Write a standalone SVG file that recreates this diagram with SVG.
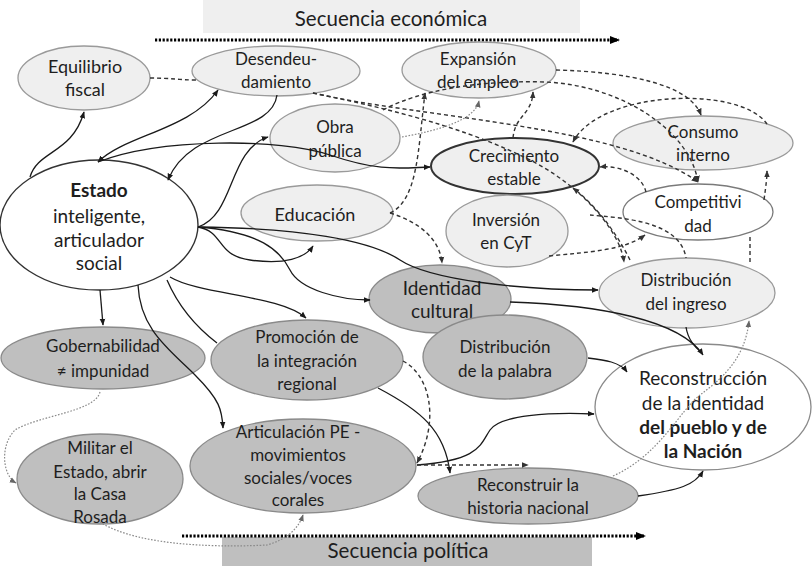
<svg xmlns="http://www.w3.org/2000/svg" width="812" height="566" viewBox="0 0 812 566">
<style>
text{font-family:Lato,"Liberation Sans",sans-serif;font-size:17px;fill:#1e1e1e;text-anchor:middle}
.big{font-size:18px}
.xl{font-size:19px}
.b{font-weight:bold}
.light{fill:#efefef;stroke:#9a9a9a;stroke-width:1.3}
.gray{fill:#bfbfbf;stroke:#8a8a8a;stroke-width:1.3}
.white{fill:#fff;stroke:#7a7a7a;stroke-width:1.3}
.s{fill:none;stroke:#1a1a1a;stroke-width:1.3;marker-end:url(#as)}
.sn{fill:none;stroke:#1a1a1a;stroke-width:1.3}
.d{fill:none;stroke:#333;stroke-width:1.4;stroke-dasharray:4 3;marker-end:url(#ad)}
.dn{fill:none;stroke:#333;stroke-width:1.4;stroke-dasharray:4 3}
.g{fill:none;stroke:#8a8a8a;stroke-width:1.2;stroke-dasharray:1.6 1.6;marker-end:url(#ag)}
.seq{fill:none;stroke:#000;stroke-width:2.8;stroke-dasharray:2.2 1.6;marker-end:url(#abig)}
.band text{font-size:20.5px}
</style>
<defs>
<marker id="as" viewBox="0 0 10 10" refX="9" refY="5" markerWidth="7" markerHeight="7" markerUnits="userSpaceOnUse" orient="auto-start-reverse"><path d="M0,1 L10,5 L0,9 z" fill="#1a1a1a"/></marker>
<marker id="ad" viewBox="0 0 10 10" refX="9" refY="5" markerWidth="7" markerHeight="7" markerUnits="userSpaceOnUse" orient="auto"><path d="M0,1 L10,5 L0,9 z" fill="#333"/></marker>
<marker id="ag" viewBox="0 0 10 10" refX="9" refY="5" markerWidth="7" markerHeight="7" markerUnits="userSpaceOnUse" orient="auto"><path d="M0,1 L10,5 L0,9 z" fill="#666"/></marker>
<marker id="abig" viewBox="0 0 10 10" refX="9" refY="5" markerWidth="10" markerHeight="10" markerUnits="userSpaceOnUse" orient="auto"><path d="M0,1 L10,5 L0,9 z" fill="#000"/></marker>
</defs>
<rect width="812" height="566" fill="#fff"/>
<g id="band-economica" class="band">
<rect x="203" y="0" width="377" height="33" fill="#efefef"/>
<text x="391" y="26">Secuencia económica</text>
<path class="seq" d="M155,40 L619,40"/>
</g>
<g id="band-politica" class="band">
<rect x="222" y="537" width="370" height="29" fill="#bfbfbf"/>
<text x="408" y="558">Secuencia política</text>
<path class="seq" d="M182,536 L645,536"/>
</g>
<g id="nodes">
<g id="equilibrio"><ellipse class="light" cx="84" cy="78" rx="66" ry="32"/><text class="big" x="85" y="73">Equilibrio</text><text class="big" x="85" y="96">fiscal</text></g>
<g id="desendeudamiento"><ellipse class="light" cx="276" cy="71" rx="84" ry="25"/><text x="276" y="65">Desendeu-</text><text x="276" y="88">damiento</text></g>
<g id="expansion"><ellipse class="light" cx="479" cy="70" rx="77" ry="28"/><text x="478" y="65">Expansión</text><text x="478" y="88">del empleo</text></g>
<g id="obra"><ellipse class="light" cx="335" cy="138" rx="65" ry="34"/><text x="335" y="133">Obra</text><text x="335" y="157">pública</text></g>
<g id="consumo"><ellipse class="light" cx="703" cy="143" rx="90" ry="27"/><text x="703" y="138">Consumo</text><text x="703" y="161">interno</text></g>
<g id="crecimiento"><ellipse cx="515" cy="166" rx="84" ry="28" fill="#efefef" stroke="#333" stroke-width="2"/><text x="514" y="162">Crecimiento</text><text x="514" y="185">estable</text></g>
<g id="estado"><ellipse cx="99" cy="225" rx="99" ry="65" fill="#fff" stroke="#333" stroke-width="1.4"/><text class="b xl" x="99" y="197">Estado</text><text class="xl" x="99" y="223">inteligente,</text><text class="xl" x="99" y="247">articulador</text><text class="xl" x="99" y="270">social</text></g>
<g id="educacion"><ellipse class="light" cx="317" cy="213" rx="76" ry="28"/><text class="big" x="315" y="221">Educación</text></g>
<g id="inversion"><ellipse class="light" cx="507" cy="231" rx="61" ry="36"/><text x="506" y="226">Inversión</text><text x="506" y="249">en CyT</text></g>
<g id="competitividad"><ellipse class="white" cx="698" cy="212" rx="75" ry="28"/><text x="698" y="208">Competitivi</text><text x="698" y="232">dad</text></g>
<g id="distribucion-ingreso"><ellipse class="light" cx="687" cy="293" rx="88" ry="35"/><text x="686" y="286">Distribución</text><text x="686" y="310">del ingreso</text></g>
<g id="identidad"><ellipse class="gray" cx="440" cy="299" rx="71" ry="34"/><text class="xl" x="442" y="295">Identidad</text><text class="xl" x="442" y="318">cultural</text></g>
<g id="palabra"><ellipse class="gray" cx="505" cy="357" rx="82" ry="42"/><text x="505" y="353">Distribución</text><text x="505" y="377">de la palabra</text></g>
<g id="gobernabilidad"><ellipse class="gray" cx="103" cy="358" rx="102" ry="31"/><text x="103" y="352">Gobernabilidad</text><text x="103" y="377">≠ impunidad</text></g>
<g id="promocion"><ellipse class="gray" cx="307" cy="360" rx="96" ry="40"/><text x="307" y="343">Promoción de</text><text x="307" y="367">la integración</text><text x="307" y="390">regional</text></g>
<g id="reconstruccion"><ellipse cx="703" cy="407" rx="108" ry="63" fill="#fff" stroke="#8a8a8a" stroke-width="1.3"/><text class="xl" x="703" y="385">Reconstrucción</text><text class="xl" x="703" y="410">de la identidad</text><text class="xl b" x="703" y="434">del pueblo y de</text><text class="xl b" x="703" y="458">la Nación</text></g>
<g id="militar"><ellipse class="gray" cx="100" cy="479" rx="83" ry="45"/><text x="100" y="454">Militar el</text><text x="100" y="478">Estado, abrir</text><text x="100" y="500">la Casa</text><text x="100" y="523">Rosada</text></g>
<g id="articulacion"><ellipse class="gray" cx="303" cy="466" rx="113" ry="47"/><text x="298" y="438">Articulación PE -</text><text x="298" y="461">movimientos</text><text x="298" y="484">sociales/voces</text><text x="298" y="506">corales</text></g>
<g id="reconstruir"><ellipse class="gray" cx="528" cy="496" rx="110" ry="28"/><text x="528" y="491">Reconstruir la</text><text x="528" y="514">historia nacional</text></g>
</g>
<g id="connectors">
<path class="s" d="M30,177 C38,150 72,154 84,112"/>
<path class="s" style="marker-start:url(#as)" d="M98,162 C125,135 190,130 218,90"/>
<path class="s" d="M277,95 C272,135 190,125 168,180"/>
<path class="s" d="M98,162 C160,138 280,138 330,155 S400,168 430,167"/>
<path class="s" d="M198,227 C235,215 228,150 268,137"/>
<path class="s" d="M198,227 C225,232 215,255 250,260 S305,258 313,246"/>
<path class="s" d="M198,227 C260,232 280,250 290,270 S340,300 370,300"/>
<path class="s" d="M198,227 C300,228 370,240 400,260 S520,290 598,290"/>
<path class="s" d="M510,302 C600,305 680,320 703,355"/>
<path class="sn" d="M686,327 C688,340 695,347 702,353"/>
<path class="s" d="M100,290 L103,325"/>
<path class="s" d="M170,277 C200,295 280,295 306,318"/>
<path class="sn" d="M167,280 C180,310 200,330 217,343"/>
<path class="s" d="M138,285 C140,330 170,350 195,375 S222,410 223,428"/>
<path class="s" d="M378,388 C420,410 445,430 450,473"/>
<path class="s" d="M417,465 C480,460 480,445 490,430 S550,412 594,414"/>
<path class="s" d="M638,496 C680,490 695,485 703,471"/>
<path class="s" d="M588,358 C605,360 620,362 627,372"/>
<path class="dn" d="M150,78 C170,78 180,80 196,80"/>
<path class="d" d="M313,93 C420,118 620,125 698,182"/>
<path class="d" d="M313,93 C420,115 480,135 530,160 S620,230 624,262"/>
<path class="d" d="M383,110 C420,90 480,80 545,82 C620,85 690,130 698,182"/>
<path class="d" d="M390,213 C418,200 418,150 425,93"/>
<path class="d" d="M513,138 C515,115 532,115 533,92"/>
<path class="d" d="M556,70 C630,72 690,85 701,115"/>
<path class="d" d="M767,124 C740,85 600,90 573,142"/>
<path class="d" d="M646,192 C642,175 620,165 600,167"/>
<path class="d" d="M630,260 C615,230 595,205 573,188"/>
<path class="d" d="M549,256 C590,252 625,250 645,235"/>
<path class="dn" d="M590,215 C620,218 680,220 686,258"/>
<path class="dn" d="M750,262 L750,236"/>
<path class="d" d="M764,200 C766,185 767,178 767,171"/>
<path class="d" d="M390,213 C420,222 440,240 442,263"/>
<path class="d" d="M403,361 C430,375 440,420 417,463"/>
<path class="d" d="M417,465 L528,465"/>
<path class="g" d="M402,137 C440,130 475,120 479,101"/>
<path class="g" d="M100,392 C95,412 40,415 15,430 C0,445 2,475 16,483"/>
<path class="g" d="M100,522 C140,548 230,547 267,545 C285,540 298,530 303,515"/>
<path class="g" d="M613,476 C660,455 680,410 700,395 S745,360 749,321"/>
</g>
</svg>
